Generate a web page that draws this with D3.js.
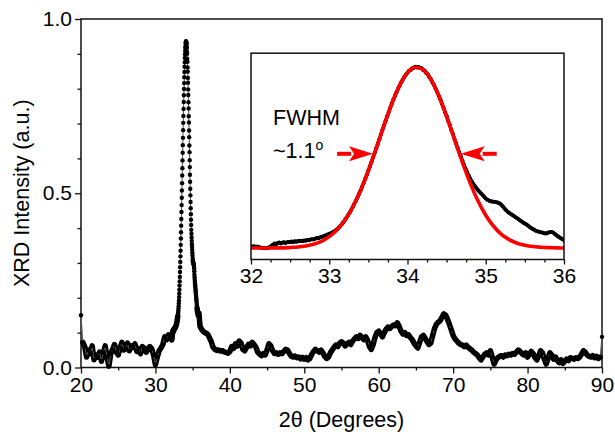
<!DOCTYPE html>
<html><head><meta charset="utf-8">
<script src="https://cdn.jsdelivr.net/npm/d3@7"></script>
<style>
body{margin:0;background:#fff}
svg{display:block;font-family:"Liberation Sans",Arial,Helvetica,sans-serif}
</style>
</head><body>
<svg id="chart" width="615" height="434"></svg>
<script>
// ---------- DATA (intensity in thousandths of a.u.) ----------
const scanAStart = 20, coarseStep = 0.25;
const scanA = [150,72,60,30,50,40,62,22,36,30,44,18,42,62,30,4,
  40,52,66,44,36,56,72,50,54,70,48,62,58,68,46,54,
  40,60,56,44,52,60,54,36,8,30,48,56,66,88,80,94];           // 20.00 – 31.75
const peakStart = 32, fineStep = 0.02;
const peakScan = [
  88,86,89,85,87,84,83,81,80,79, 80,82,85,90,96,101,98,104,106,102,
  105,108,104,107,109,108,111,109,112,110, 113,112,114,113,116,115,118,117,120,122,
  121,124,127,126,130,133,135,138,141,144,
  147,150,154,158,163,169,176,184,192,202, 212,223,235,247,260,274,288,303,319,335,
  352,370,388,407,426,446,466,487,508,529, 551,572,594,616,638,659,681,702,722,742,
  762,781,799,816,833,848,863,876,888,899,
  908,917,921,929,931,936,933,935,930,929, 921,917,906,900,886,877,861,849,831,817,
  798,782,761,743,721,703,680,661,637,618, 595,575,553,533,513,494,475,457,440,424,
  409,395,384,373,363,354,346,338,330,322,
  314,308,304,301,300,299,298,296,294,290, 284,276,267,259,252,246,241,236,231,226,
  221,216,210,205,200,196,191,186,180,175, 170,166,162,159,157,155,154,151,149,150,
  153,155,156,153,148,142,136,131,126,122,
  118];                                                        // 32.00 – 36.00
const scanBStart = 36.25;
const scanB = [108,102,99,96,86,74,58,52,49,50,47,48,45,43,41,46,
  60,55,68,62,76,70,52,48,58,66,62,72,66,58,44,38,
  34,40,36,50,68,62,48,40,42,38,42,40,46,52,50,40,
  32,30,33,28,30,25,29,24,28,22,26,38,46,52,48,44,
  50,42,32,26,30,42,50,58,64,60,70,74,70,62,68,72,
  66,76,82,88,84,92,86,80,88,78,60,52,66,86,100,104,
  96,88,100,110,116,112,118,122,120,128,118,104,96,100,92,94,
  86,80,70,62,56,72,88,92,84,74,66,70,92,112,124,130,
  134,144,154,150,138,124,108,92,82,76,70,66,64,60,64,58,
  54,50,44,40,36,28,22,30,38,42,36,48,30,10,22,28,
  32,34,30,36,34,38,36,40,38,44,50,46,40,36,42,30,
  38,46,40,28,22,34,48,42,24,10,26,42,36,24,30,20,
  14,22,12,18,24,20,28,26,24,28,26,30,38,48,44,36,
  32,30,34,28,32,26,30,88];                                  // 36.25 – 90.00
// Gaussian fit curve (inset), 32.0 – 36.0 every 0.1
const fitStart = 32, fitStep = 0.1;
const fitCurve = [80,80,80,81,81,83,85,90,98,112,
  134,166,212,274,352,446,551,659,762,848,
  908,934,923,876,799,702,594,487,388,303,
  235,183,145,120,103,93,87,84,82,81,80];
const xTicks = [20,30,40,50,60,70,80,90];
const xMinor = [25,35,45,55,65,75,85];
const yTicks = [0,0.5,1.0];
const yMinor = [0.1,0.2,0.3,0.4,0.6,0.7,0.8,0.9];
const insetTicks = [32,33,34,35,36];
const insetMinor = [32.25,32.5,32.75,33.25,33.5,33.75,34.25,34.5,34.75,35.25,35.5,35.75];
const fwhmTips = [33.56, 34.68];   // half-maximum crossings
const fwhmLevel = 0.525;
const denseRanges = [[20.2, 33.0], [35.6, 89.8]]; // where the dense scan merges into a band
const xTitle = "2θ (Degrees)";
const yTitle = "XRD Intensity (a.u.)";

// ---------- BUILD POINTS ----------
const toPts = (arr, start, step) => arr.map((v, i) => ({x: +(start + i * step).toFixed(3), v: v / 1000}));
const ptsA = toPts(scanA, scanAStart, coarseStep);
const ptsP = toPts(peakScan, peakStart, fineStep);
const ptsB = toPts(scanB, scanBStart, coarseStep);
const allPts = ptsA.concat(ptsP, ptsB);
const fitPts = toPts(fitCurve, fitStart, fitStep);

const svg = d3.select("#chart");
const FONT = 21;

// ---------- MAIN PLOT ----------
const L = 81, R = 602, T = 19, B = 367.5;
const x = d3.scaleLinear().domain([20, 90]).range([L, R]);
const y = d3.scaleLinear().domain([0, 1]).range([B, T]);

svg.append("g").attr("transform", `translate(0,${B})`)
  .call(d3.axisBottom(x).tickValues(xTicks).tickSize(6).tickPadding(4).tickFormat(d3.format("d")));
svg.append("g").attr("transform", `translate(0,${B})`)
  .call(d3.axisBottom(x).tickValues(xMinor).tickSize(3).tickFormat(""));
svg.append("g").attr("transform", `translate(${L},0)`)
  .call(d3.axisLeft(y).tickValues(yTicks).tickSize(6).tickPadding(3).tickFormat(d3.format(".1f")));
svg.append("g").attr("transform", `translate(${L},0)`)
  .call(d3.axisLeft(y).tickValues(yMinor).tickSize(3.5).tickFormat(""));
svg.selectAll(".domain").remove();
svg.selectAll(".tick line").attr("stroke", "#111").attr("stroke-width", 1.3);
svg.selectAll(".tick text").attr("font-size", FONT).attr("fill", "#000").attr("font-family", "Liberation Sans, Arial, sans-serif");

svg.append("rect").attr("x", L).attr("y", T).attr("width", R - L).attr("height", B - T)
  .attr("fill", "none").attr("stroke", "#111").attr("stroke-width", 1.5);

const mainLine = d3.line().x(d => x(d.x)).y(d => y(d.v));
// dense band portions
denseRanges.forEach(([a, b]) => {
  svg.append("path").datum(allPts.filter(d => d.x >= a && d.x <= b)).attr("d", mainLine)
    .attr("fill", "none").attr("stroke", "#000").attr("stroke-width", 5.5)
    .attr("stroke-linejoin", "round").attr("stroke-linecap", "round");
});
svg.append("path").datum(allPts).attr("d", mainLine)
  .attr("fill", "none").attr("stroke", "#555").attr("stroke-width", 1);
svg.append("g").selectAll("circle").data(allPts).join("circle")
  .attr("cx", d => x(d.x)).attr("cy", d => y(d.v)).attr("r", 2.2).attr("fill", "#000");

svg.append("text").attr("x", (L + R) / 2).attr("y", 427).attr("text-anchor", "middle")
  .attr("font-size", 21.5).text(xTitle);
svg.append("text").attr("transform", `translate(29,${(T + B) / 2}) rotate(-90)`)
  .attr("text-anchor", "middle").attr("font-size", 21.5).text(yTitle);

// ---------- INSET ----------
const iL = 251, iR = 564, iT = 53.2, iB = 259.5;
const ix = d3.scaleLinear().domain([32, 36]).range([iL, iR]);
const iy = d3.scaleLinear().domain([0.026, 1.0]).range([iB, iT]);

svg.append("rect").attr("x", iL).attr("y", iT).attr("width", iR - iL).attr("height", iB - iT)
  .attr("fill", "#fff");
const gi = svg.append("g").attr("transform", `translate(0,${iB})`)
  .call(d3.axisBottom(ix).tickValues(insetTicks).tickSize(5).tickPadding(4).tickFormat(d3.format("d")));
const gi2 = svg.append("g").attr("transform", `translate(0,${iB})`)
  .call(d3.axisBottom(ix).tickValues(insetMinor).tickSize(3).tickFormat(""));
gi.select(".domain").remove(); gi2.select(".domain").remove();
gi.selectAll(".tick line").attr("stroke", "#111").attr("stroke-width", 1.3);
gi2.selectAll(".tick line").attr("stroke", "#111").attr("stroke-width", 1.3);
gi.selectAll(".tick text").attr("font-size", FONT).attr("fill", "#000");

svg.append("clipPath").attr("id", "insetClip")
  .append("rect").attr("x", iL).attr("y", iT).attr("width", iR - iL).attr("height", iB - iT);
const ig = svg.append("g").attr("clip-path", "url(#insetClip)");
ig.append("path").datum(ptsP).attr("d", d3.line().x(d => ix(d.x)).y(d => iy(d.v)))
  .attr("fill", "none").attr("stroke", "#000").attr("stroke-width", 3.4).attr("stroke-linejoin", "round");
ig.append("g").selectAll("circle").data(ptsP).join("circle")
  .attr("cx", d => ix(d.x)).attr("cy", d => iy(d.v)).attr("r", 2).attr("fill", "#000");
ig.append("path").datum(fitPts)
  .attr("d", d3.line().x(d => ix(d.x)).y(d => iy(d.v)).curve(d3.curveMonotoneX))
  .attr("fill", "none").attr("stroke", "#f00").attr("stroke-width", 3.6);

svg.append("rect").attr("x", iL).attr("y", iT).attr("width", iR - iL).attr("height", iB - iT)
  .attr("fill", "none").attr("stroke", "#111").attr("stroke-width", 1.5);

// FWHM annotation
svg.append("text").attr("x", 273).attr("y", 125).attr("font-size", 21.5).text("FWHM");
const t2 = svg.append("text").attr("x", 273).attr("y", 158).attr("font-size", 21.5);
t2.append("tspan").text("~1.1");
t2.append("tspan").attr("font-size", 14).attr("dy", -8).text("o");

const ay = iy(fwhmLevel);
function arrow(tipX, dir) { // dir = +1 pointing right, -1 pointing left
  const headLen = 24, halfH = 7.5, shaft = 12;
  const baseX = tipX - dir * headLen;
  svg.append("line").attr("x1", baseX - dir * shaft).attr("x2", baseX + dir * 2)
    .attr("y1", ay).attr("y2", ay).attr("stroke", "#f00").attr("stroke-width", 4);
  svg.append("path").attr("d", `M${tipX},${ay} L${baseX},${ay - halfH} L${baseX + dir * 5},${ay} L${baseX},${ay + halfH} Z`)
    .attr("fill", "#f00");
}
arrow(ix(fwhmTips[0]), 1);
arrow(ix(fwhmTips[1]), -1);
</script>
</body></html>
